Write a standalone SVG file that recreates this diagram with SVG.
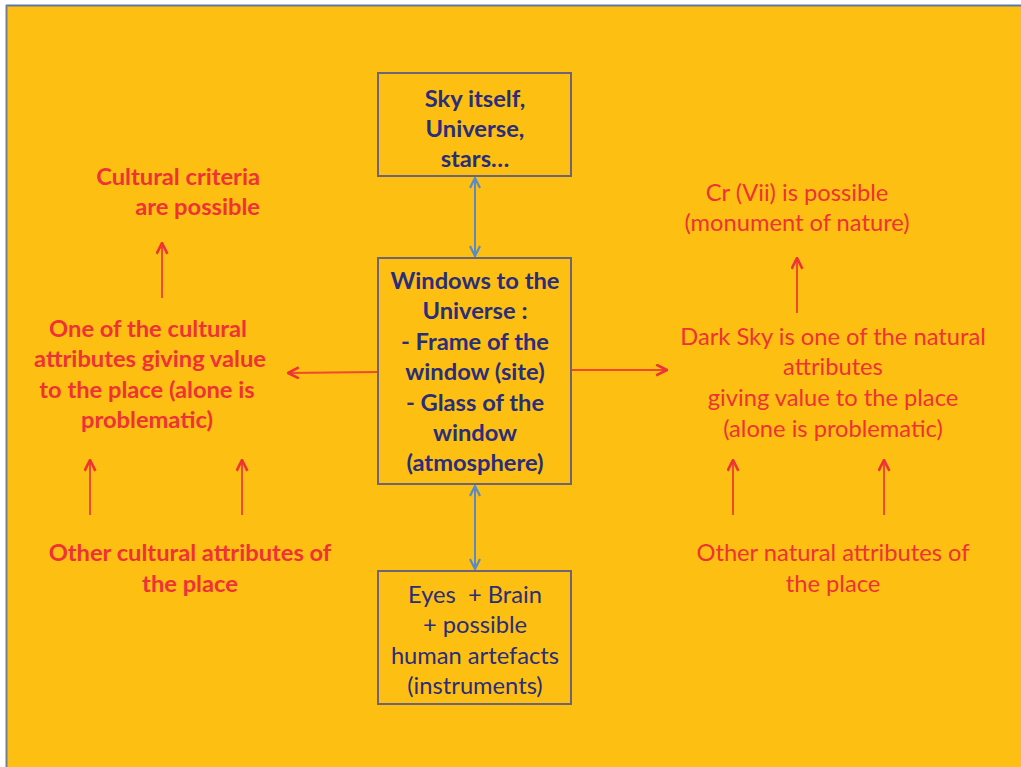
<svg xmlns="http://www.w3.org/2000/svg" width="1021" height="767" viewBox="0 0 1021 767">
<style>
.box{fill:none;stroke:#6E6477;stroke-width:2}
.nb{font-family:Lato,"Open Sans",sans-serif;font-weight:bold;font-size:23.7px;fill:#2A2D7C;text-anchor:middle}
.nn{font-family:Lato,"Open Sans",sans-serif;font-size:23.7px;fill:#2A2D7C;text-anchor:middle;white-space:pre}
.rb{font-family:Lato,"Open Sans",sans-serif;font-weight:bold;font-size:23.7px;fill:#EE3236}
.rn{font-family:Lato,"Open Sans",sans-serif;font-size:23.7px;fill:#EE3236}
.blue{stroke:#5B8BC6;stroke-width:2;fill:none}
.red{stroke:#EF4A2C;stroke-width:2;fill:none}
</style>
<defs>
<marker id="ab" viewBox="0 0 12 12" refX="11" refY="6" markerWidth="12" markerHeight="12" markerUnits="userSpaceOnUse" orient="auto-start-reverse">
<path d="M1,1 L11,6 L1,11" fill="none" stroke="#5B8BC6" stroke-width="2.2"/>
</marker>
<marker id="ar" viewBox="0 0 12 12" refX="11" refY="6" markerWidth="13" markerHeight="13" markerUnits="userSpaceOnUse" orient="auto">
<path d="M1,1 L11,6 L1,11" fill="none" stroke="#EE3236" stroke-width="2.4"/>
</marker>
</defs>
<rect width="1021" height="767" fill="#FFFFFF"/>
<rect x="6" y="5" width="1015" height="762" fill="#FDBF12"/>
<line x1="6" y1="5.5" x2="1021" y2="5.5" stroke="#5A79A8" stroke-width="2"/>
<line x1="6.5" y1="5" x2="6.5" y2="767" stroke="#7A7F90" stroke-width="2"/>

<g id="connectors">
<line class="blue" x1="475" y1="178" x2="475" y2="256" marker-start="url(#ab)" marker-end="url(#ab)"/>
<line class="blue" x1="475" y1="486" x2="475" y2="569" marker-start="url(#ab)" marker-end="url(#ab)"/>
<line class="red" x1="377" y1="372" x2="288" y2="373" marker-end="url(#ar)"/>
<line class="red" x1="572" y1="370" x2="667" y2="370" marker-end="url(#ar)"/>
<line class="red" x1="162" y1="298" x2="162" y2="243" marker-end="url(#ar)"/>
<line class="red" x1="90" y1="515" x2="90" y2="460" marker-end="url(#ar)"/>
<line class="red" x1="242" y1="515" x2="242" y2="460" marker-end="url(#ar)"/>
<line class="red" x1="797" y1="313" x2="797" y2="258" marker-end="url(#ar)"/>
<line class="red" x1="733" y1="515" x2="733" y2="460" marker-end="url(#ar)"/>
<line class="red" x1="884" y1="515" x2="884" y2="460" marker-end="url(#ar)"/>
</g>

<g id="sky">
<rect class="box" x="378" y="73" width="193" height="103"/>
<text class="nb" x="475" y="107">Sky itself,</text>
<text class="nb" x="475" y="137">Universe,</text>
<text class="nb" x="475" y="167">stars…</text>
</g>

<g id="windows">
<rect class="box" x="378" y="258" width="193" height="226"/>
<text class="nb" x="475" y="289">Windows to the</text>
<text class="nb" x="475" y="319">Universe :</text>
<text class="nb" x="475" y="350">- Frame of the</text>
<text class="nb" x="475" y="380">window (site)</text>
<text class="nb" x="475" y="411">- Glass of the</text>
<text class="nb" x="475" y="441">window</text>
<text class="nb" x="475" y="471">(atmosphere)</text>
</g>

<g id="eyes">
<rect class="box" x="378" y="571" width="193" height="133"/>
<text class="nn" x="475" y="603" xml:space="preserve">Eyes  + Brain</text>
<text class="nn" x="475" y="633">+ possible</text>
<text class="nn" x="475" y="664">human artefacts</text>
<text class="nn" x="475" y="694">(instruments)</text>
</g>

<g id="cultural-criteria">
<text class="rb" x="260" y="185" text-anchor="end">Cultural criteria</text>
<text class="rb" x="260" y="215" text-anchor="end">are possible</text>
</g>

<g id="cultural-attribute">
<text class="rb" text-anchor="middle" x="148" y="337">One of the cultural</text>
<text class="rb" text-anchor="middle" x="150" y="367">attributes giving value</text>
<text class="rb" text-anchor="middle" x="147" y="398">to the place (alone is</text>
<text class="rb" text-anchor="middle" x="147" y="428">problematic)</text>
</g>

<g id="other-cultural">
<text class="rb" text-anchor="middle" x="190" y="561">Other cultural attributes of</text>
<text class="rb" text-anchor="middle" x="190" y="592">the place</text>
</g>

<g id="cr-vii">
<text class="rn" text-anchor="middle" x="797" y="201">Cr (Vii) is possible</text>
<text class="rn" text-anchor="middle" x="797" y="231">(monument of nature)</text>
</g>

<g id="dark-sky">
<text class="rn" text-anchor="middle" x="833" y="345">Dark Sky is one of the natural</text>
<text class="rn" text-anchor="middle" x="833" y="375">attributes</text>
<text class="rn" text-anchor="middle" x="833" y="406">giving value to the place</text>
<text class="rn" text-anchor="middle" x="833" y="437">(alone is problematic)</text>
</g>

<g id="other-natural">
<text class="rn" text-anchor="middle" x="833" y="561">Other natural attributes of</text>
<text class="rn" text-anchor="middle" x="833" y="592">the place</text>
</g>
</svg>
